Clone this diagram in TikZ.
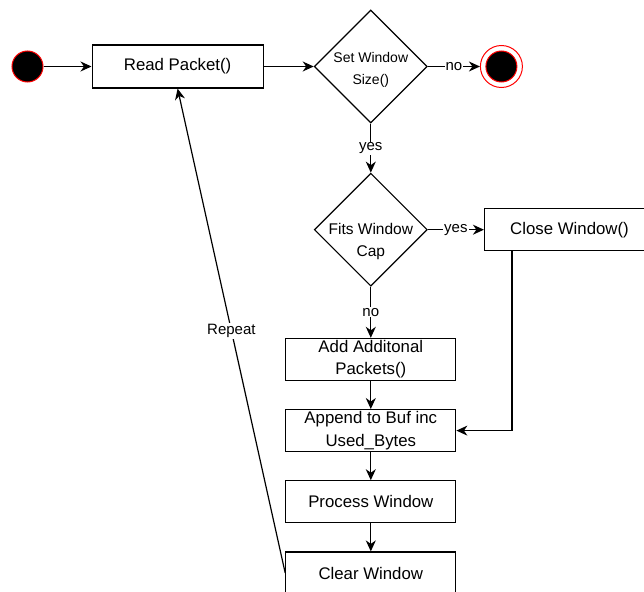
\documentclass[tikz,border=0pt]{standalone}
\usepackage{fontspec}
\setmainfont{Liberation Sans}
\usetikzlibrary{positioning,shapes.geometric,arrows.meta}
\newcommand{\boxfont}{\fontsize{16.8}{22.4}\selectfont}
\newcommand{\decfont}{\fontsize{14}{22}\selectfont}
\newcommand{\capfont}{\fontsize{15.5}{21.5}\selectfont}
\newcommand{\guardfont}{\fontsize{15}{18}\selectfont}

\begin{document}
\begin{tikzpicture}[x=1pt,y=-1pt,
	state/.style={rectangle, draw, line width=1.2pt, minimum width=170pt, minimum height=42pt, align=center, font=\boxfont, inner sep=1pt},
	decision/.style={diamond, draw, line width=1.2pt, minimum width=113pt, minimum height=113pt, aspect=1, inner sep=0pt},
	query/.style={align=center, inner sep=0pt},
	initial/.style={circle, draw=red, fill=black, line width=1pt, minimum size=31pt, inner sep=0pt},
	final/.style={circle, draw=red, line width=1pt, minimum size=42pt, inner sep=0pt,
		path picture={\draw[red, line width=1pt, fill=black] (path picture bounding box.center) circle (15.5pt);}},
	flow/.style={line width=1.2pt, -{Stealth[length=11pt, width=10pt, inset=3.5pt]}},
	guard/.style={fill=white, font=\guardfont, inner sep=1pt}]
	\useasboundingbox (0,0) rectangle (644,591);
	\clip (0,0) rectangle (644,591);

	\node[initial] (start) at (27.5,66.5) {};
	\node[state, right=48pt of start, minimum width=171pt, minimum height=43pt] (read) {Read Packet()};
	\node[decision, right=50pt of read,
		label={[query, font=\decfont, yshift=-3pt]center:Set Window\\Size()}] (setsize) {};
	\node[final, right=52pt of setsize] (stop) {};
	\node[decision, below=49pt of setsize,
		label={[query, font=\capfont, yshift=-12pt]center:Fits Window\\Cap}] (fits) {};
	\node[state, right=56pt of fits] (close) {Close Window()};
	\node[state, below=51pt of fits] (add) {Add Additonal\\Packets()};
	\node[state, below=28pt of add] (append) {Append to Buf inc\\Used\_Bytes};
	\node[state, below=28pt of append] (process) {Process Window};
	\node[state, below=28pt of process] (clear) {Clear Window};

	\draw[flow] (start) -- (read);
	\draw[flow] (read) -- (setsize);
	\draw[flow] (setsize) -- node[guard] {no} (stop);
	\draw[flow] (setsize) -- node[guard] {yes} (fits);
	\draw[flow] (fits) -- node[guard] {yes} (close);
	\draw[flow] (fits) -- node[guard] {no} (add);
	\draw[flow] (add) -- (append);
	\draw[flow] (append) -- (process);
	\draw[flow] (process) -- (clear);
	\draw[flow] ([xshift=28pt]close.south west) |- (append.east);
	\draw[flow] (clear.west) -- node[guard, pos=0.5] {Repeat} (read.south);
\end{tikzpicture}
\end{document}
